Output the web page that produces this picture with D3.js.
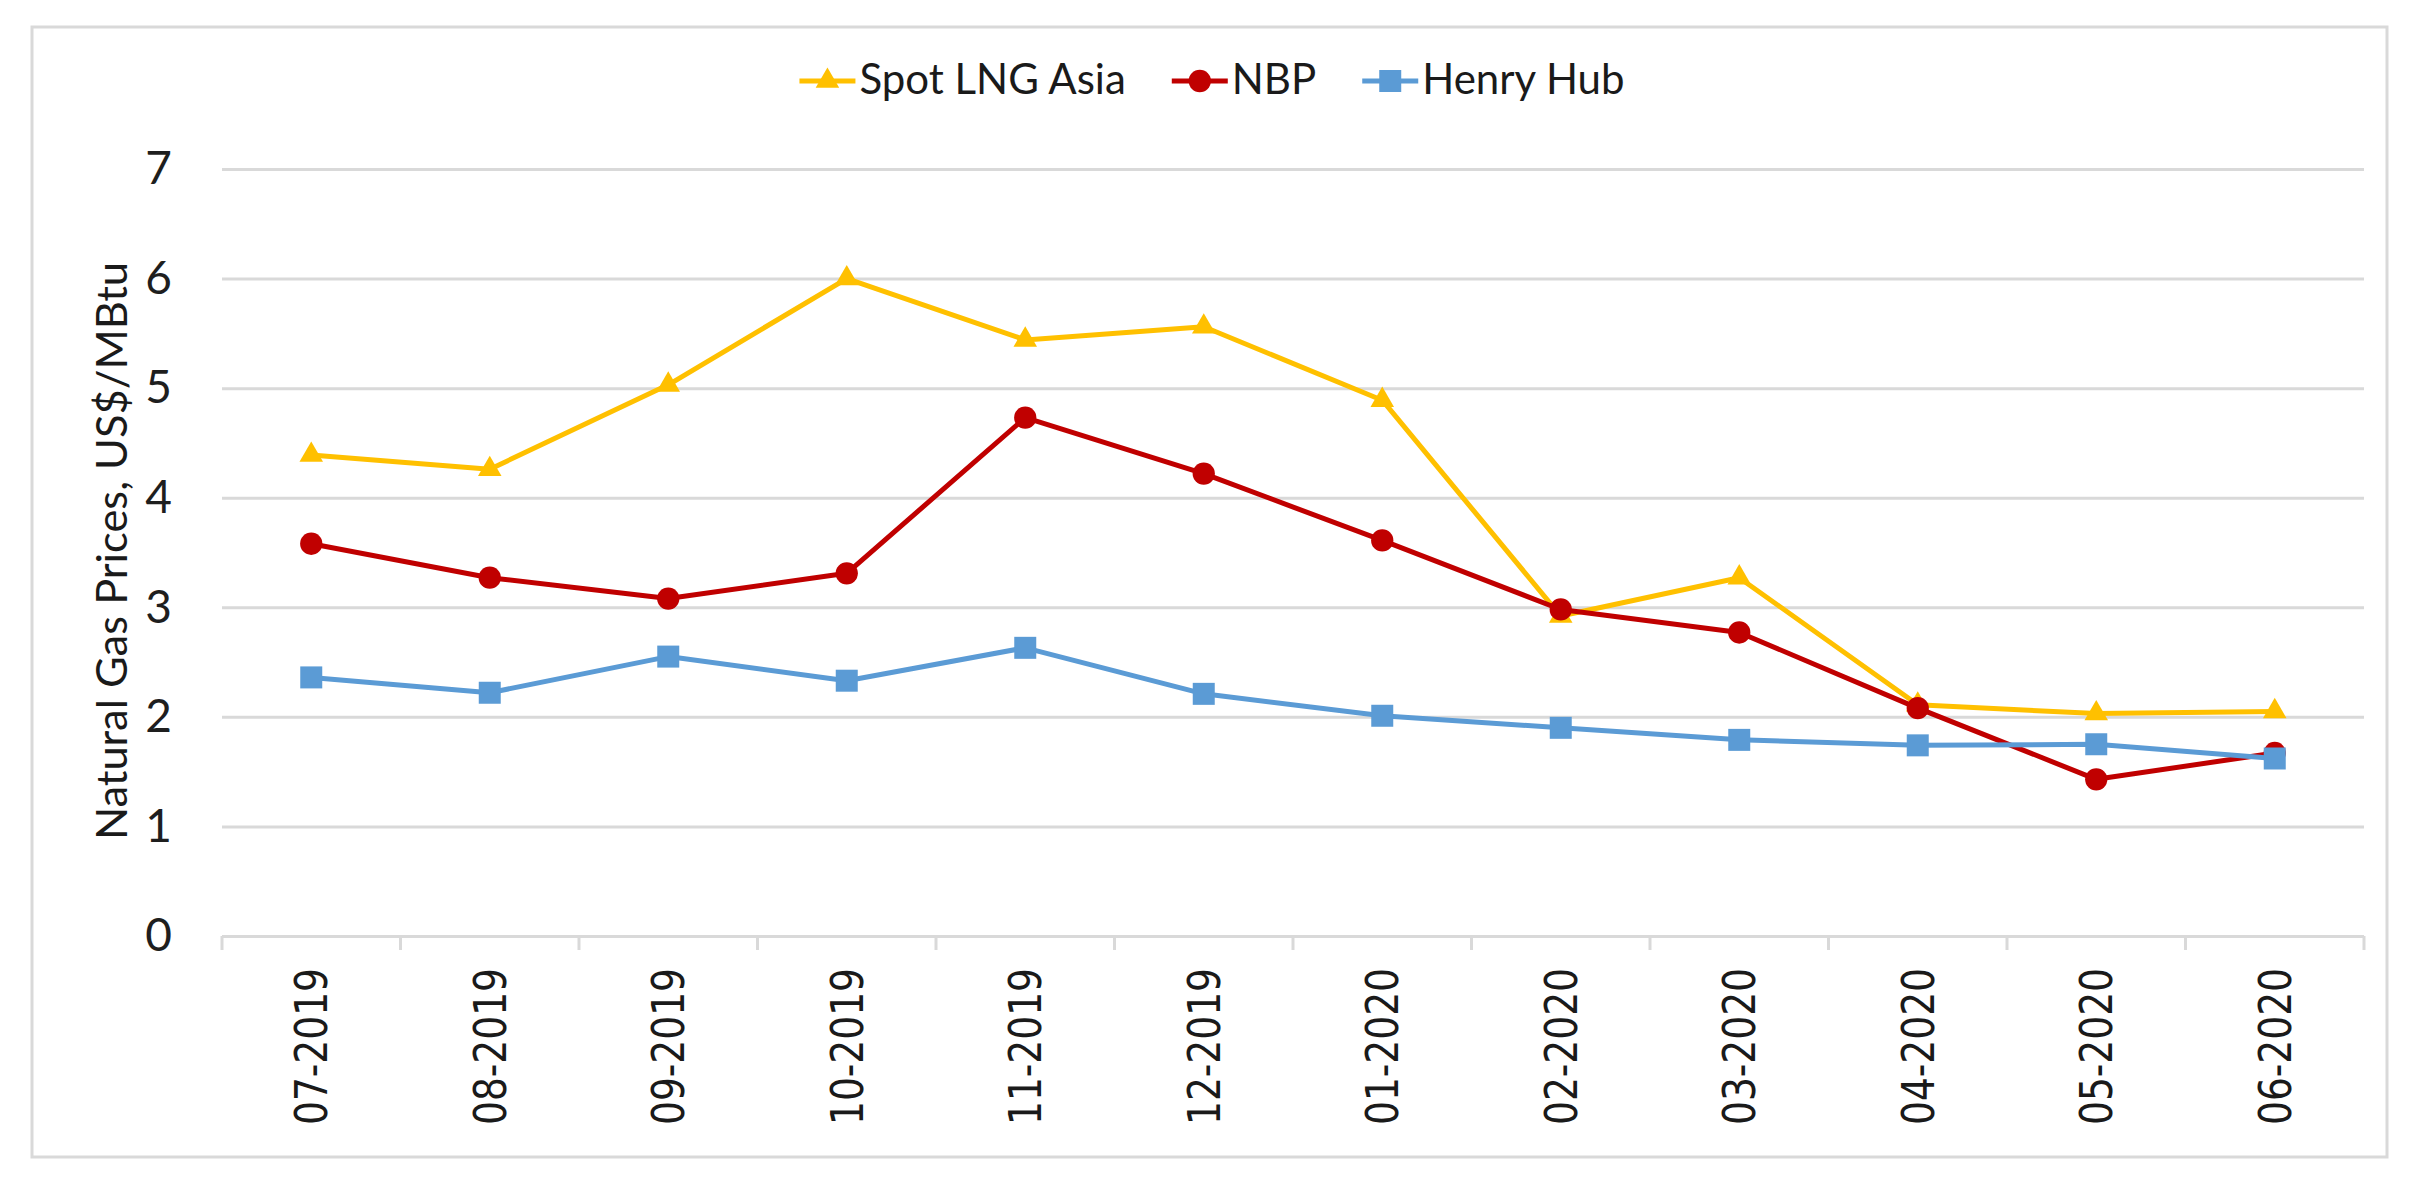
<!DOCTYPE html>
<html>
<head>
<meta charset="utf-8">
<script src="https://cdn.jsdelivr.net/npm/d3@7"></script>
<style>
  body { margin: 0; background: #fff; }
  svg { display: block; }
</style>
</head>
<body>
<div id="chart"></div>
<script>
// months on the x axis
const months = ["07-2019", "08-2019", "09-2019", "10-2019", "11-2019", "12-2019",
                "01-2020", "02-2020", "03-2020", "04-2020", "05-2020", "06-2020"];

// US$/MBtu
const spotLngAsia = [4.39, 4.26, 5.03, 6.00, 5.44, 5.56, 4.89, 2.92, 3.27, 2.11, 2.03, 2.05];
const nbp         = [3.58, 3.27, 3.08, 3.31, 4.73, 4.22, 3.61, 2.98, 2.77, 2.08, 1.43, 1.67];
const henryHub    = [2.36, 2.22, 2.55, 2.33, 2.63, 2.21, 2.01, 1.90, 1.79, 1.74, 1.75, 1.62];

const yTicks = [0, 1, 2, 3, 4, 5, 6, 7];

const series = [
  { name: "Spot LNG Asia", values: spotLngAsia, color: "#FFC000", shape: "triangle" },
  { name: "NBP",           values: nbp,         color: "#C00000", shape: "circle" },
  { name: "Henry Hub",     values: henryHub,    color: "#5B9BD5", shape: "square" }
];

const W = 2412, H = 1186;
const plot = { left: 222, right: 2364, top: 169, bottom: 936 };

const svg = d3.select("#chart").append("svg")
  .attr("width", W)
  .attr("height", H);

svg.append("rect").attr("width", W).attr("height", H).attr("fill", "#fff");

// outer chart frame
svg.append("rect")
  .attr("x", 32).attr("y", 27)
  .attr("width", 2387 - 32).attr("height", 1157 - 27)
  .attr("fill", "none")
  .attr("stroke", "#d9d9d9")
  .attr("stroke-width", 3);

const x = d3.scaleBand().domain(months).range([plot.left, plot.right]);
const cx = d => x(d) + x.bandwidth() / 2;
const y = d3.scaleLinear().domain([0, 7]).range([plot.bottom, plot.top]);

// y axis with gridlines
const yAxis = svg.append("g")
  .attr("transform", `translate(${plot.left},0)`)
  .call(d3.axisLeft(y)
    .tickValues(yTicks)
    .tickFormat(d3.format("d"))
    .tickSize(-(plot.right - plot.left))
    .tickPadding(50));
yAxis.select(".domain").remove();
yAxis.selectAll(".tick line").attr("stroke", "#d9d9d9").attr("stroke-width", 3);
yAxis.selectAll(".tick text")
  .attr("font-family", "Lato, 'Open Sans', sans-serif")
  .attr("font-size", 46)
  .attr("fill", "#1e1e1e");

// category boundary ticks under the axis
const bounds = months.map(m => x(m)).concat([plot.right]);
svg.append("g").selectAll("line")
  .data(bounds)
  .join("line")
  .attr("x1", d => d).attr("x2", d => d)
  .attr("y1", plot.bottom).attr("y2", plot.bottom + 14)
  .attr("stroke", "#d9d9d9").attr("stroke-width", 3);

// x labels, rotated
svg.append("g").selectAll("text")
  .data(months)
  .join("text")
  .attr("transform", d => `translate(${cx(d)},968) rotate(-90)`)
  .attr("text-anchor", "end")
  .attr("dy", "0.36em")
  .attr("font-family", "'DejaVu Sans', Verdana, sans-serif")
  .attr("font-size", 45)
  .attr("textLength", 157)
  .attr("lengthAdjust", "spacingAndGlyphs")
  .attr("fill", "#1a1a1a")
  .text(d => d);

// y axis title
svg.append("text")
  .attr("transform", "translate(127,551) rotate(-90)")
  .attr("text-anchor", "middle")
  .attr("font-family", "Lato, 'Open Sans', sans-serif")
  .attr("font-size", 43)
  .attr("textLength", 578)
  .attr("lengthAdjust", "spacingAndGlyphs")
  .attr("fill", "#1a1a1a")
  .text("Natural Gas Prices, US$/MBtu");

const symbolFor = {
  triangle: d3.symbol().type(d3.symbolTriangle).size(240),
  circle: d3.symbol().type(d3.symbolCircle).size(390),
  square: d3.symbol().type(d3.symbolSquare).size(484)
};

const line = d3.line()
  .x((v, i) => cx(months[i]))
  .y(v => y(v));

// draw series in Excel order (later ones on top)
series.forEach(s => {
  const g = svg.append("g");
  g.append("path")
    .attr("d", line(s.values))
    .attr("fill", "none")
    .attr("stroke", s.color)
    .attr("stroke-width", 5)
    .attr("stroke-linejoin", "round");
  g.selectAll("path.mk")
    .data(s.values)
    .join("path")
    .attr("class", "mk")
    .attr("transform", (v, i) => `translate(${cx(months[i])},${y(v)})`)
    .attr("d", symbolFor[s.shape]())
    .attr("fill", s.color);
});

// legend on top
const legend = svg.append("g");
let lx = 0;
series.forEach((s, i) => {
  const it = legend.append("g");
  it.append("line")
    .attr("x1", 0).attr("x2", 56)
    .attr("y1", 81).attr("y2", 81)
    .attr("stroke", s.color).attr("stroke-width", 5);
  it.append("path")
    .attr("transform", "translate(28,81)")
    .attr("d", symbolFor[s.shape]())
    .attr("fill", s.color);
  const t = it.append("text")
    .attr("x", 60).attr("y", 94)
    .attr("font-family", "Lato, 'Open Sans', sans-serif")
    .attr("font-size", 42)
    .attr("fill", "#1a1a1a")
    .text(s.name);
  const w = 60 + t.node().getComputedTextLength();
  it.attr("transform", `translate(${lx},0)`);
  lx += w + (i < series.length - 1 ? 46 : 0);
});
legend.attr("transform", `translate(${1212 - lx / 2},0)`);
</script>
</body>
</html>
